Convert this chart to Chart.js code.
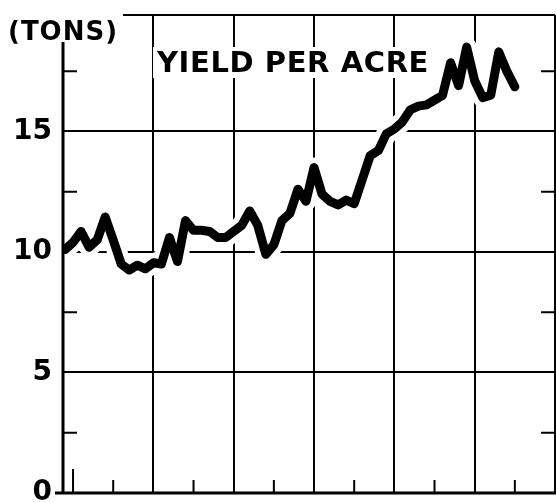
<!DOCTYPE html>
<html><head><meta charset="utf-8">
<style>html,body{margin:0;padding:0;background:#fff;}#wrap{width:556px;height:503px;position:relative}</style>
<script src="https://cdn.jsdelivr.net/npm/chart.js"></script>
</head><body><div id="wrap"><canvas id="c" width="556" height="503"></canvas></div>
<script>
const years = [1909,1910,1911,1912,1913,1914,1915,1916,1917,1918,1919,1920,1921,1922,1923,1924,1925,1926,1927,1928,1929,1930,1931,1932,1933,1934,1935,1936,1937,1938,1939,1940,1941,1942,1943,1944,1945,1946,1947,1948,1949,1950,1951,1952,1953,1954,1955,1956,1957,1958,1959,1960,1961,1962,1963,1964,1965];
const yieldPerAcre = [10.1,10.4,10.85,10.2,10.5,11.45,10.5,9.5,9.25,9.45,9.3,9.55,9.5,10.6,9.6,11.3,10.9,10.9,10.85,10.6,10.6,10.85,11.1,11.7,11.1,9.9,10.3,11.3,11.6,12.6,12.1,13.5,12.4,12.1,11.95,12.15,12.0,13.0,14.0,14.2,14.9,15.1,15.4,15.9,16.05,16.1,16.3,16.5,17.85,16.9,18.5,17.1,16.4,16.5,18.3,17.5,16.85];
const yTickLabels = [0,5,10,15];
const yMinorTicks = [2.5,7.5,12.5,17.5];
const xGridYears = [1920,1930,1940,1950,1960,1970];
const xMinorTicks = [1910,1915,1925,1935,1945,1955,1965];
const titleText = 'YIELD PER ACRE';
const unitText = '(TONS)';

const FONT = '"DejaVu Sans", "Liberation Sans", sans-serif';

const framePlugin = {
  id: 'frame',
  afterDatasetsDraw(chart) {
    const {ctx, chartArea: a, scales: {x, y}} = chart;
    ctx.save();
    ctx.strokeStyle = '#000';
    ctx.lineCap = 'butt';
    ctx.lineWidth = 3;
    ctx.beginPath();
    ctx.moveTo(a.left, 42); ctx.lineTo(a.left, a.bottom);
    ctx.moveTo(55, a.bottom); ctx.lineTo(556, a.bottom);
    ctx.stroke();
    ctx.lineWidth = 2;
    ctx.beginPath();
    ctx.moveTo(123, a.top); ctx.lineTo(a.right, a.top);
    ctx.moveTo(a.right, a.top); ctx.lineTo(a.right, a.bottom);
    ctx.stroke();
    ctx.lineWidth = 2;
    ctx.beginPath();
    yMinorTicks.forEach(v => {
      const py = y.getPixelForValue(v);
      ctx.moveTo(a.left, py); ctx.lineTo(a.left + 14, py);
      ctx.moveTo(a.right - 14, py); ctx.lineTo(a.right, py);
    });
    xMinorTicks.forEach((v, i) => {
      const px = x.getPixelForValue(v);
      const len = i === 0 ? 24 : 13;
      ctx.moveTo(px, a.bottom); ctx.lineTo(px, a.bottom - len);
    });
    ctx.stroke();
    ctx.fillStyle = '#fff';
    ctx.fillRect(153, 47, 280, 31);
    ctx.fillStyle = '#000';
    ctx.font = 'bold 29px ' + FONT;
    ctx.textBaseline = 'alphabetic';
    ctx.textAlign = 'left';
    ctx.letterSpacing = '0.6px';
    ctx.fillText(titleText, 157, 72);
    ctx.font = 'bold 26px ' + FONT;
    ctx.letterSpacing = '1px';
    ctx.fillText(unitText, 8, 40);
    ctx.restore();
  }
};

new Chart(document.getElementById('c'), {
  type: 'line',
  data: {
    datasets: [
      {
        data: years.map((yr, i) => ({x: yr, y: yieldPerAcre[i]})),
        borderColor: '#000', borderWidth: 9, pointRadius: 0, tension: 0,
        borderJoinStyle: 'round', borderCapStyle: 'round', order: 1
      },
      {
        data: years.map((yr, i) => ({x: yr, y: yieldPerAcre[i]})),
        borderColor: '#fff', borderWidth: 20, pointRadius: 0, tension: 0,
        borderJoinStyle: 'round', borderCapStyle: 'round', order: 2
      }
    ]
  },
  options: {
    responsive: false,
    devicePixelRatio: 1,
    animation: false,
    layout: {padding: {top: 15, right: 1, bottom: 10, left: 0}},
    plugins: {legend: {display: false}, tooltip: {enabled: false}},
    scales: {
      x: {
        type: 'linear', min: 1908.75, max: 1970,
        afterBuildTicks: s => { s.ticks = xGridYears.map(v => ({value: v})); },
        afterFit: s => { s.height = 0; s.paddingLeft = 0; s.paddingRight = 0; },
        ticks: {display: false},
        grid: {color: '#000', lineWidth: 2, drawTicks: false},
        border: {display: false}
      },
      y: {
        min: 0, max: 19.83,
        afterBuildTicks: s => { s.ticks = yTickLabels.map(v => ({value: v})); },
        afterFit: s => { s.width = 63; s.paddingTop = 0; s.paddingBottom = 0; },
        ticks: {color: '#000', font: {family: FONT, weight: 'bold', size: 28}, padding: 11, callback: v => String(v)},
        grid: {color: '#000', lineWidth: 2, drawTicks: false},
        border: {display: false}
      }
    }
  },
  plugins: [framePlugin]
});
</script>
</body></html>
